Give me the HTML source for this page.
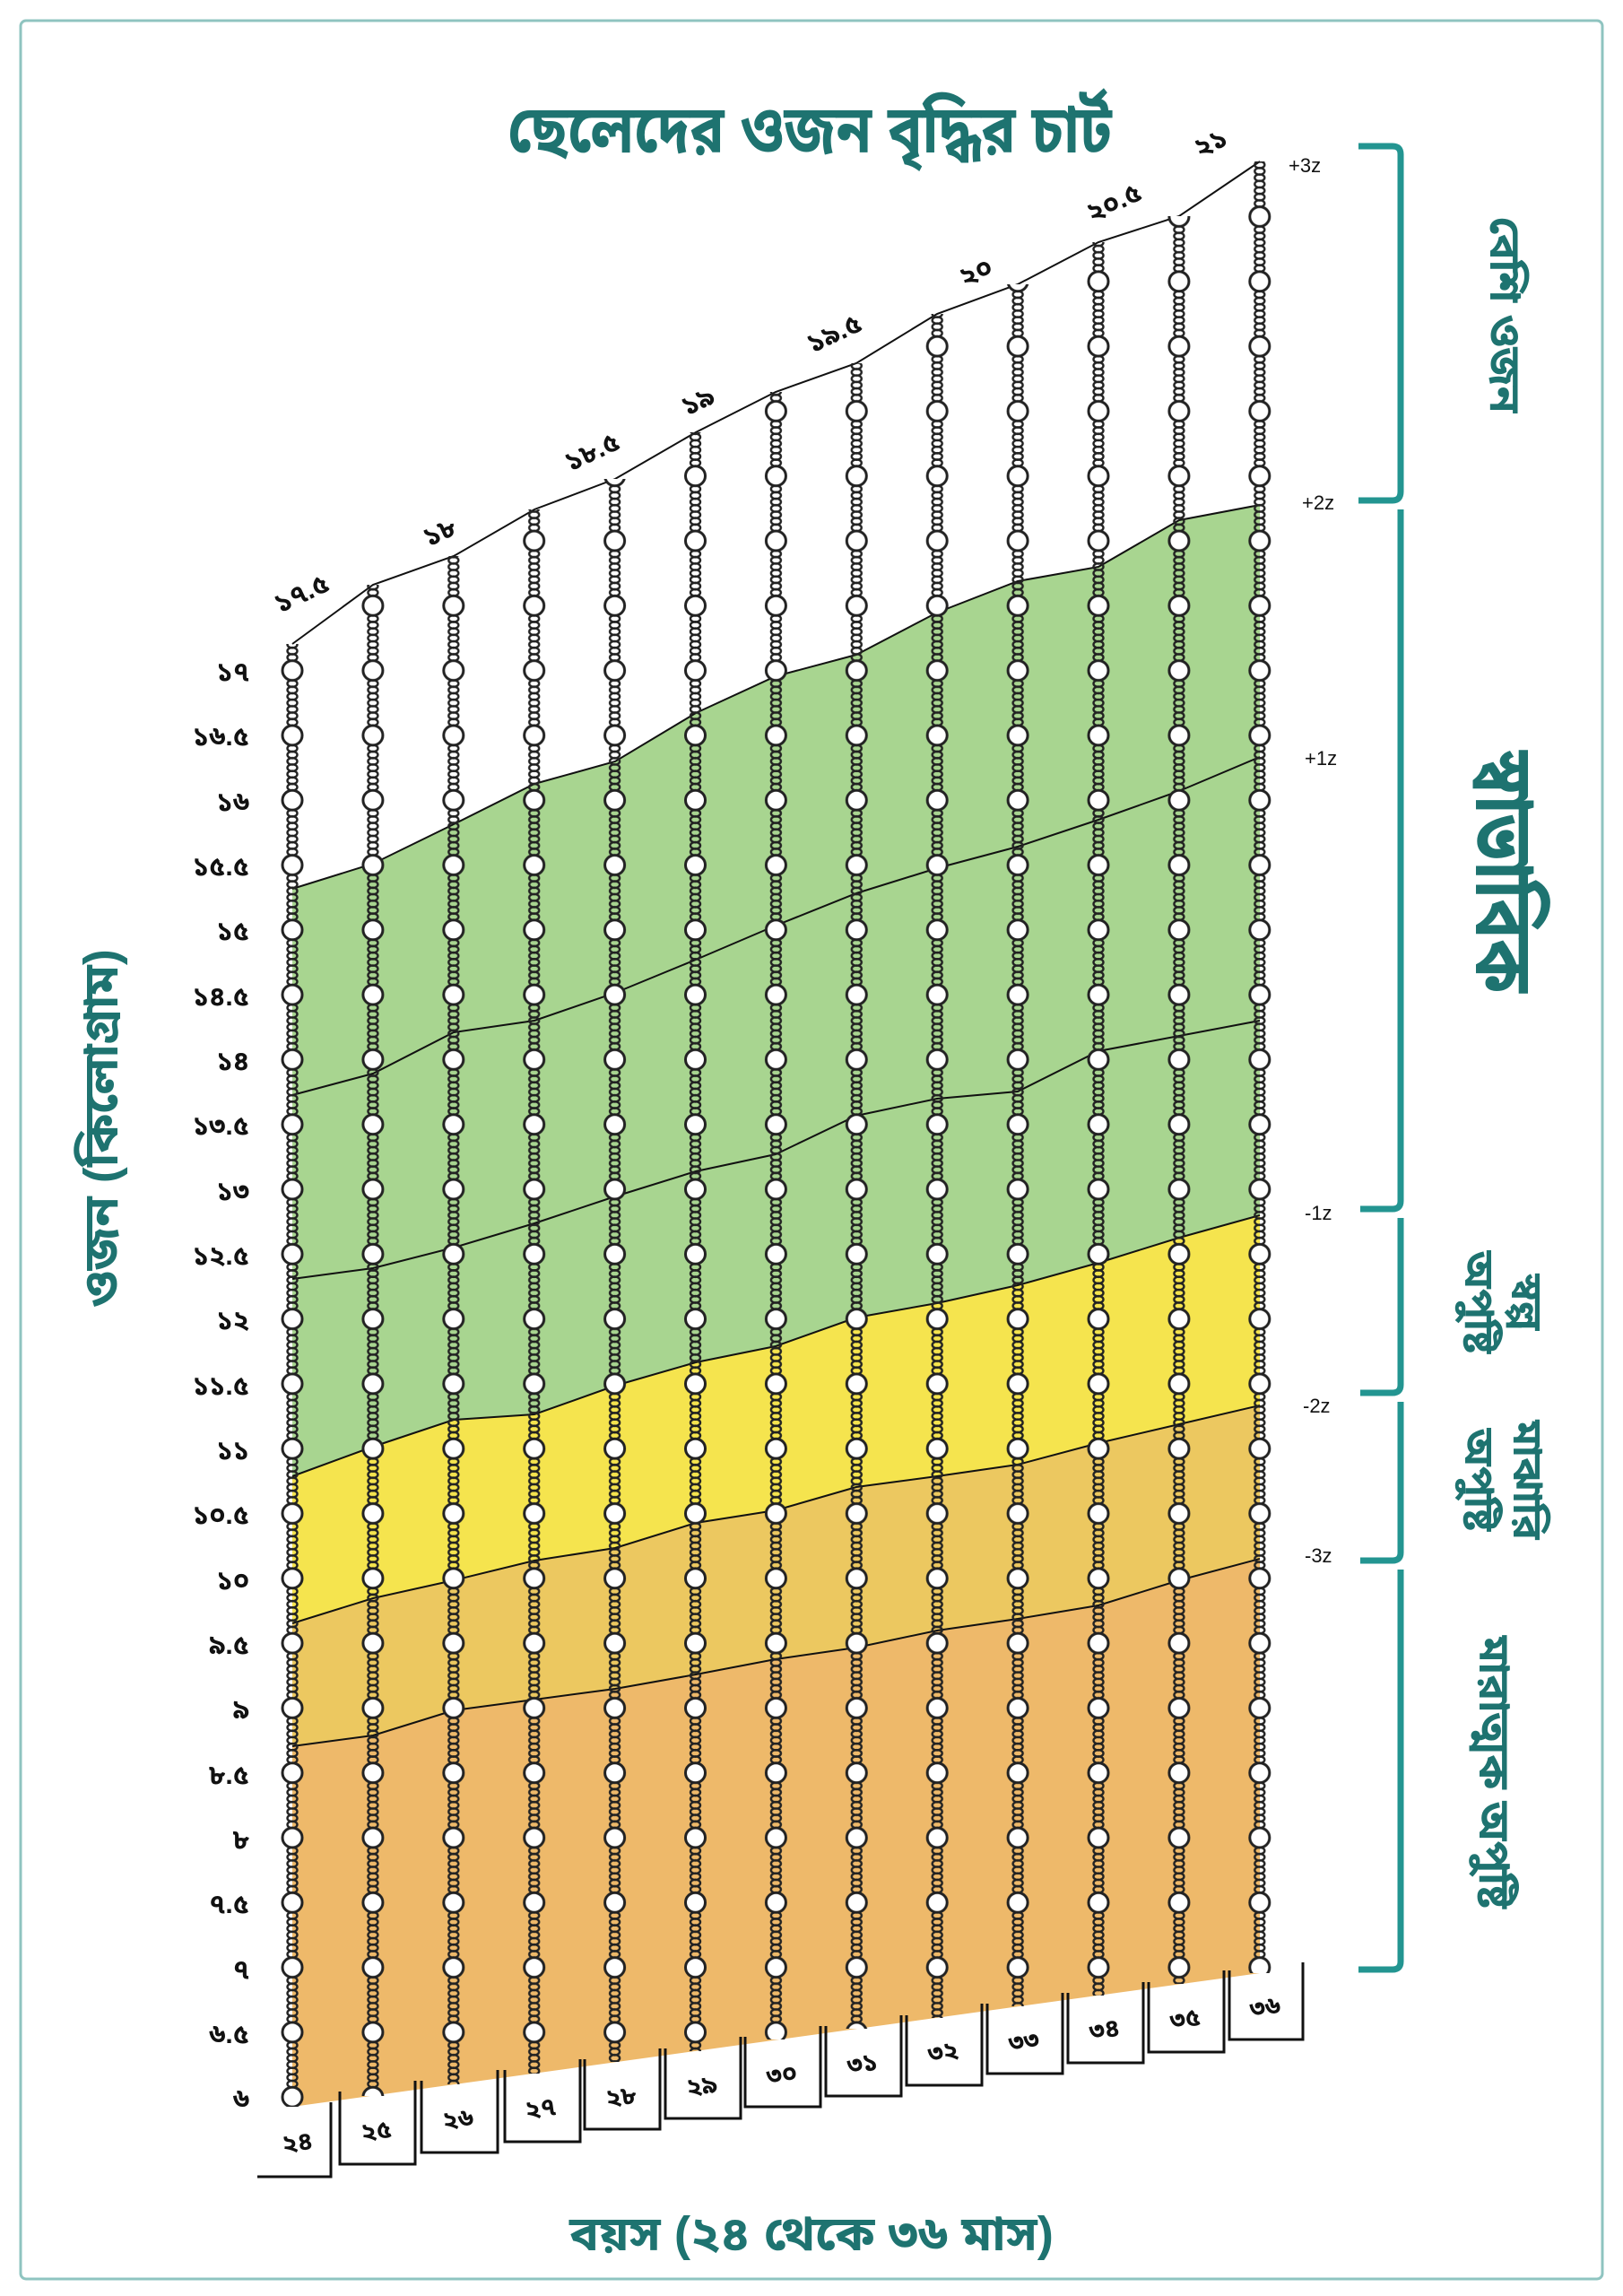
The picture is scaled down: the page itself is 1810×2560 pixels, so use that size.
<!DOCTYPE html>
<html><head><meta charset="utf-8">
<style>
html,body{margin:0;padding:0;background:#fff;}
svg{display:block;}
text{font-family:"Liberation Sans","Noto Sans Bengali","Lohit Bengali","Noto Sans",sans-serif;}
.t{fill:#1e7370;font-weight:bold;}
.tk{font-size:30px;font-weight:bold;fill:#111;text-anchor:end;}
.z{font-size:22px;fill:#111;}
.v{font-size:30px;font-weight:bold;fill:#111;}
.b{font-size:28px;font-weight:bold;fill:#111;text-anchor:middle;}
</style></head><body>
<svg width="1810" height="2560" viewBox="0 0 1810 2560" xmlns="http://www.w3.org/2000/svg">
<defs>
<pattern id="ch" patternUnits="userSpaceOnUse" x="281.05" y="-11.55" width="89.9" height="72.3">
 <g fill="none" stroke="#222" stroke-width="2.4">
  <ellipse cx="44.95" cy="0" rx="5.5" ry="3.8"/>
  <ellipse cx="44.95" cy="72.3" rx="5.5" ry="3.8"/>
  <ellipse cx="44.95" cy="7.2" rx="5.5" ry="3.8"/>
  <ellipse cx="44.95" cy="14.4" rx="5.5" ry="3.8"/>
  <ellipse cx="44.95" cy="21.6" rx="5.5" ry="3.8"/>
  <ellipse cx="44.95" cy="50.7" rx="5.5" ry="3.8"/>
  <ellipse cx="44.95" cy="57.9" rx="5.5" ry="3.8"/>
  <ellipse cx="44.95" cy="65.1" rx="5.5" ry="3.8"/>
  <circle cx="44.95" cy="36.15" r="11" fill="#fff" stroke-width="3"/>
 </g>
</pattern>
</defs>
<rect x="23" y="23" width="1764" height="2518" rx="6" fill="#fff" stroke="#8fc4c0" stroke-width="3"/>

<text class="t" x="903" y="170" font-size="74" text-anchor="middle" textLength="674" lengthAdjust="spacingAndGlyphs">ছেলেদের ওজন বৃদ্ধির চার্ট</text>

<!-- fills -->
<polygon fill="#a8d590" points="326,991 416,963 506,919 596,874 686,849 776,795 865,754 955,730 1045,683 1135,648 1225,632 1315,580 1405,563 1405,1355 1315,1380 1225,1408 1135,1433 1045,1453 955,1469 865,1501 776,1519 686,1545 596,1577 506,1583 416,1613 326,1646"/>
<polygon fill="#f5e44e" points="326,1646 416,1613 506,1583 596,1577 686,1545 776,1519 865,1501 955,1469 1045,1453 1135,1433 1225,1408 1315,1380 1405,1355 1405,1567 1315,1588 1225,1609 1135,1633 1045,1646 955,1658 865,1684 776,1698 686,1726 596,1740 506,1762 416,1782 326,1810"/>
<polygon fill="#ecc860" points="326,1810 416,1782 506,1762 596,1740 686,1726 776,1698 865,1684 955,1658 1045,1646 1135,1633 1225,1609 1315,1588 1405,1567 1405,1738 1315,1762 1225,1790 1135,1805 1045,1818 955,1837 865,1850 776,1867 686,1883 596,1895 506,1907 416,1935 326,1947"/>
<polygon fill="#eeb96a" points="326,1947 416,1935 506,1907 596,1895 686,1883 776,1867 865,1850 955,1837 1045,1818 1135,1805 1225,1790 1315,1762 1405,1738 1405,2200 326,2349"/>

<!-- lines -->
<g fill="none" stroke="#111" stroke-width="2">
<polyline points="326,718 416,652 506,620 596,568 686,534 776,482 865,437 955,405 1045,350 1135,317 1225,270 1315,241 1405,180"/>
<polyline points="326,991 416,963 506,919 596,874 686,849 776,795 865,754 955,730 1045,683 1135,648 1225,632 1315,580 1405,563"/>
<polyline points="326,1221 416,1197 506,1151 596,1138 686,1107 776,1070 865,1032 955,996 1045,968 1135,944 1225,914 1315,882 1405,844"/>
<polyline points="326,1426 416,1414 506,1391 596,1364 686,1334 776,1306 865,1287 955,1244 1045,1225 1135,1217 1225,1172 1315,1155 1405,1138"/>
<polyline points="326,1646 416,1613 506,1583 596,1577 686,1545 776,1519 865,1501 955,1469 1045,1453 1135,1433 1225,1408 1315,1380 1405,1355"/>
<polyline points="326,1810 416,1782 506,1762 596,1740 686,1726 776,1698 865,1684 955,1658 1045,1646 1135,1633 1225,1609 1315,1588 1405,1567"/>
<polyline points="326,1947 416,1935 506,1907 596,1895 686,1883 776,1867 865,1850 955,1837 1045,1818 1135,1805 1225,1790 1315,1762 1405,1738"/>
</g>

<!-- chains -->
<g fill="url(#ch)">
<rect x="311" y="718" width="30" height="1631"/>
<rect x="401" y="652" width="30" height="1685"/>
<rect x="491" y="620" width="30" height="1704"/>
<rect x="581" y="568" width="30" height="1744"/>
<rect x="671" y="534" width="30" height="1765"/>
<rect x="761" y="482" width="30" height="1805"/>
<rect x="850" y="437" width="30" height="1837"/>
<rect x="940" y="405" width="30" height="1857"/>
<rect x="1030" y="350" width="30" height="1900"/>
<rect x="1120" y="317" width="30" height="1920"/>
<rect x="1210" y="270" width="30" height="1955"/>
<rect x="1300" y="241" width="30" height="1971"/>
<rect x="1390" y="180" width="30" height="2020"/>
</g>

<!-- bottom boxes -->
<g fill="none" stroke="#111" stroke-width="3">
<path d="M287,2427 H369 V2344"/>
<path d="M379,2332 V2413 H463 V2320"/>
<path d="M470,2320 V2400 H555 V2308"/>
<path d="M563,2308 V2388 H647 V2296"/>
<path d="M652,2296 V2374 H736 V2284"/>
<path d="M742,2284 V2362 H826 V2271"/>
<path d="M831,2271 V2349 H915 V2259"/>
<path d="M921,2259 V2337 H1005 V2247"/>
<path d="M1011,2247 V2325 H1095 V2234"/>
<path d="M1101,2234 V2312 H1185 V2222"/>
<path d="M1191,2222 V2300 H1275 V2210"/>
<path d="M1281,2210 V2288 H1365 V2197"/>
<path d="M1371,2197 V2274 H1453 V2188"/>
</g>
<g class="b">
<text transform="translate(333,2398) rotate(-8)">২৪</text>
<text transform="translate(421,2385) rotate(-8)">২৫</text>
<text transform="translate(512,2372) rotate(-8)">২৬</text>
<text transform="translate(604,2360) rotate(-8)">২৭</text>
<text transform="translate(694,2347) rotate(-8)">২৮</text>
<text transform="translate(784,2335) rotate(-8)">২৯</text>
<text transform="translate(873,2322) rotate(-8)">৩০</text>
<text transform="translate(963,2310) rotate(-8)">৩১</text>
<text transform="translate(1053,2297) rotate(-8)">৩২</text>
<text transform="translate(1143,2285) rotate(-8)">৩৩</text>
<text transform="translate(1233,2272) rotate(-8)">৩৪</text>
<text transform="translate(1323,2260) rotate(-8)">৩৫</text>
<text transform="translate(1412,2247) rotate(-8)">৩৬</text>
</g>

<!-- y tick labels -->
<g class="tk">
<text x="278" y="759">১৭</text>
<text x="278" y="831">১৬.৫</text>
<text x="278" y="904">১৬</text>
<text x="278" y="976">১৫.৫</text>
<text x="278" y="1048">১৫</text>
<text x="278" y="1121">১৪.৫</text>
<text x="278" y="1193">১৪</text>
<text x="278" y="1265">১৩.৫</text>
<text x="278" y="1338">১৩</text>
<text x="278" y="1410">১২.৫</text>
<text x="278" y="1482">১২</text>
<text x="278" y="1555">১১.৫</text>
<text x="278" y="1627">১১</text>
<text x="278" y="1699">১০.৫</text>
<text x="278" y="1772">১০</text>
<text x="278" y="1844">৯.৫</text>
<text x="278" y="1916">৯</text>
<text x="278" y="1989">৮.৫</text>
<text x="278" y="2061">৮</text>
<text x="278" y="2133">৭.৫</text>
<text x="278" y="2206">৭</text>
<text x="278" y="2278">৬.৫</text>
<text x="278" y="2350">৬</text>
</g>

<!-- top value labels -->
<g class="v">
<text transform="translate(312,684) rotate(-25)">১৭.৫</text>
<text transform="translate(478,610) rotate(-25)">১৮</text>
<text transform="translate(636,526) rotate(-25)">১৮.৫</text>
<text transform="translate(766,464) rotate(-25)">১৯</text>
<text transform="translate(906,394) rotate(-25)">১৯.৫</text>
<text transform="translate(1076,320) rotate(-25)">২০</text>
<text transform="translate(1218,248) rotate(-25)">২০.৫</text>
<text transform="translate(1338,176) rotate(-25)">২১</text>
</g>

<!-- z labels -->
<g class="z">
<text x="1437" y="192">+3z</text>
<text x="1452" y="568">+2z</text>
<text x="1455" y="853">+1z</text>
<text x="1455" y="1360">-1z</text>
<text x="1453" y="1575">-2z</text>
<text x="1455" y="1742">-3z</text>
</g>

<!-- brackets -->
<g fill="none" stroke="#239591" stroke-width="7" stroke-linejoin="round">
<path d="M1515,163 H1553 Q1562,163 1562,172 V548 Q1562,558 1553,558 H1515"/>
<path d="M1562,568 V1339 Q1562,1348 1553,1348 H1517"/>
<path d="M1562,1358 V1544 Q1562,1553 1553,1553 H1517"/>
<path d="M1562,1563 V1731 Q1562,1740 1553,1740 H1517"/>
<path d="M1562,1750 V2187 Q1562,2196 1553,2196 H1515"/>
</g>

<!-- right labels -->
<g class="t">
<text transform="translate(1662,351) rotate(90)" font-size="48" text-anchor="middle">বেশি ওজন</text>
<text transform="translate(1646,972) rotate(90)" font-size="92" text-anchor="middle" textLength="270" lengthAdjust="spacingAndGlyphs">স্বাভাবিক</text>
<text transform="translate(1688,1452) rotate(90)" font-size="46" text-anchor="middle">স্বল্প</text>
<text transform="translate(1634,1452) rotate(90)" font-size="46" text-anchor="middle">অপুষ্টি</text>
<text transform="translate(1688,1650) rotate(90)" font-size="46" text-anchor="middle">মাঝারি</text>
<text transform="translate(1634,1650) rotate(90)" font-size="46" text-anchor="middle">অপুষ্টি</text>
<text transform="translate(1650,1976) rotate(90)" font-size="48" text-anchor="middle">মারাত্মক অপুষ্টি</text>
</g>

<text class="t" transform="translate(131,1258) rotate(-90)" font-size="54" text-anchor="middle">ওজন (কিলোগ্রাম)</text>
<text class="t" x="905" y="2509" font-size="54" text-anchor="middle" textLength="540" lengthAdjust="spacingAndGlyphs">বয়স (২৪ থেকে ৩৬ মাস)</text>
</svg>
</body></html>
